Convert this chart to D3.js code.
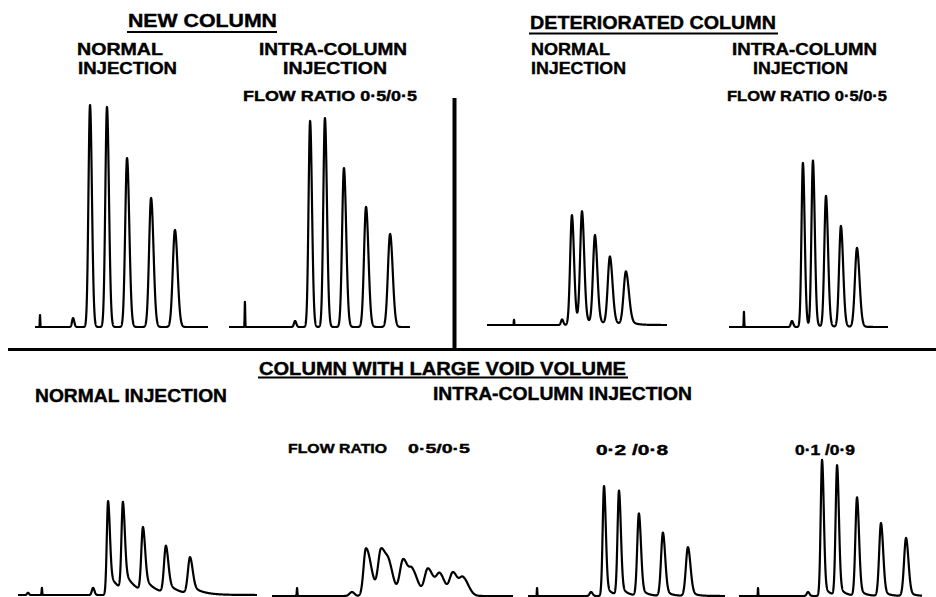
<!DOCTYPE html>
<html>
<head>
<meta charset="utf-8">
<script src="https://cdn.jsdelivr.net/npm/d3@7"></script>
<style>
body { margin: 0; background: #fff; }
text { font-family: "Liberation Sans", Arial, sans-serif; font-weight: bold; fill: #000; }
</style>
</head>
<body>
<div id="chart"></div>
<script>
// each peak: [retention, height, sigma left, sigma right, tail fraction, tail length]
// retention in % of the trace length, height in % of the tallest peak (new column)
var newNormal = [
    [2.9, 5.4, 0.15, 0.15],
    [22.0, 4.0, 0.6, 0.7],
    [31.8, 100, 0.9, 1.1],
    [41.6, 99.1, 0.95, 1.15],
    [53.2, 76.1, 1.05, 1.3],
    [67.1, 58.1, 1.15, 1.4],
    [80.9, 43.7, 1.25, 1.5]
];
var newIntra = [
    [8.8, 11.3, 0.15, 0.15],
    [36.5, 2.7, 0.6, 0.7],
    [44.8, 92.8, 0.85, 1.05],
    [53.0, 94.1, 0.9, 1.1],
    [63.5, 71.6, 1.0, 1.25],
    [75.7, 54.1, 1.1, 1.35],
    [89.0, 41.9, 1.2, 1.45]
];
var detNormal = [
    [15.0, 2.3, 0.15, 0.15],
    [41.7, 2.5, 0.6, 0.7],
    [47.2, 49.5, 1.0, 1.15, 0.1, 3],
    [52.8, 50.5, 1.05, 1.2, 0.1, 3],
    [60.0, 40, 1.1, 1.3, 0.1, 3],
    [68.3, 30.6, 1.2, 1.45, 0.1, 3],
    [77.2, 24, 1.3, 1.65, 0.12, 3.5]
];
var detIntra = [
    [9.4, 6.8, 0.15, 0.15],
    [39.6, 2.7, 0.7, 0.8],
    [46.5, 73.9, 0.9, 1.1, 0.05, 2],
    [52.8, 74.8, 0.95, 1.15, 0.05, 2],
    [61.0, 59.0, 1.05, 1.3, 0.05, 2],
    [70.4, 45.5, 1.15, 1.4, 0.05, 2],
    [80.5, 35.6, 1.3, 1.6, 0.05, 2]
];
var voidNormal = [
    [4.2, 1.0, 0.4, 0.4],
    [10.0, 3.2, 0.12, 0.12],
    [31.4, 3.2, 0.5, 0.6],
    [37.7, 42.3, 0.55, 0.75, 0.25, 4.5],
    [43.9, 39.3, 0.6, 0.8, 0.25, 4.5],
    [52.3, 28.7, 0.7, 0.9, 0.25, 4.5],
    [61.9, 21.1, 0.8, 1.0, 0.25, 4.5],
    [72.0, 16.4, 0.9, 1.1, 0.25, 4.5]
];
var voidIntra55 = [
    [10.4, 3.6, 0.12, 0.12],
    [33.2, 1.8, 1.0, 1.0],
    [39.0, 21.5, 1.0, 2.2],
    [45.2, 20, 1.2, 1.8],
    [48.6, 13, 1.5, 1.8],
    [54.4, 16.2, 1.4, 1.8],
    [58.3, 11, 1.5, 2.2],
    [64.7, 12.3, 1.4, 2.2],
    [69.7, 9.5, 1.5, 2.0],
    [75.1, 10.4, 1.4, 1.8],
    [79.3, 8.0, 1.5, 2.2]
];
var voidIntra28 = [
    [4.6, 3.6, 0.12, 0.12],
    [32.0, 1.8, 0.7, 0.8],
    [38.6, 49.5, 0.7, 0.9, 0.12, 3],
    [46.2, 47, 0.75, 0.95, 0.12, 3],
    [56.3, 37, 0.85, 1.05, 0.12, 3],
    [68.5, 28.5, 0.95, 1.15, 0.12, 3],
    [81.2, 22, 1.05, 1.3, 0.12, 3]
];
var voidIntra19 = [
    [10.4, 3.6, 0.12, 0.12],
    [37.7, 1.8, 0.7, 0.8],
    [45.4, 61.3, 0.75, 0.95, 0.1, 3],
    [53.6, 58.5, 0.8, 1.0, 0.1, 3],
    [64.5, 44.3, 0.9, 1.1, 0.1, 3],
    [77.6, 32.8, 1.0, 1.2, 0.1, 3],
    [91.3, 26.1, 1.1, 1.3, 0.1, 3]
];

var width = 936, height = 597;
var unit = 2.22;  // px per height unit, same for every trace
var times = d3.range(0, 100.001, 0.05);

var svg = d3.select('#chart').append('svg')
    .attr('width', width)
    .attr('height', height);

function peakValue(p, t) {
    var d = t - p[0], a = p[4] || 0, tau = p[5] || 1;
    if(d < 0)
        return p[1] * Math.exp(-0.5*d*d/(p[2]*p[2]));
    return p[1] * ((1-a)*Math.exp(-0.5*d*d/(p[3]*p[3])) + a*Math.exp(-d/tau));
}

function trace(peaks, x0, x1, base) {
    var x = d3.scaleLinear().domain([0, 100]).range([x0, x1]);
    var y = d3.scaleLinear().domain([0, 100]).range([base, base - 100*unit]);
    var line = d3.line()
        .x(function(t) { return x(t); })
        .y(function(t) { return y(d3.sum(peaks, function(p) { return peakValue(p, t); })); });
    svg.append('path')
        .attr('d', line(times))
        .attr('fill', 'none')
        .attr('stroke', '#000')
        .attr('stroke-width', 2.2)
        .attr('stroke-linejoin', 'round');
}

function label(s, xa, xb, yb, size) {
    svg.append('text')
        .attr('x', xa).attr('y', yb)
        .attr('textLength', xb - xa)
        .attr('lengthAdjust', 'spacingAndGlyphs')
        .style('font-size', size + 'px')
        .style('stroke', '#000').style('stroke-width', 0.4)
        .text(s);
}

function rule(xa, ya, xb, yb, w) {
    svg.append('line')
        .attr('x1', xa).attr('y1', ya).attr('x2', xb).attr('y2', yb)
        .attr('stroke', '#000').attr('stroke-width', w);
}

// TRACES

trace(newNormal, 35, 208, 327);
trace(newIntra, 229, 410, 327);
trace(detNormal, 487, 667, 325);
trace(detIntra, 729, 888, 327);
trace(voidNormal, 18, 257, 595);
trace(voidIntra55, 272, 513, 596);
trace(voidIntra28, 528, 725, 596);
trace(voidIntra19, 739, 922, 596);

// DIVIDERS

rule(454.5, 98, 454.5, 350, 4);
rule(8, 349.5, 936, 349.5, 3);

// LABELS

label('NEW COLUMN', 128, 277, 27, 18);
rule(127, 32, 277, 32, 2);
label('NORMAL', 77, 163, 55, 16.5);
label('INJECTION', 78, 177, 74, 16.5);
label('INTRA-COLUMN', 259, 407, 55, 16.5);
label('INJECTION', 283, 387, 74, 16.5);
label('FLOW RATIO  0·5/0·5', 243, 417, 101, 14);

label('DETERIORATED COLUMN', 530, 776, 29, 18);
rule(529, 33.5, 778, 33.5, 2);
label('NORMAL', 531, 610, 55, 16.5);
label('INJECTION', 531, 626, 74, 16.5);
label('INTRA-COLUMN', 732, 877, 55, 16.5);
label('INJECTION', 753, 848, 74, 16.5);
label('FLOW RATIO 0·5/0·5', 727, 887, 101, 14);

label('COLUMN WITH LARGE VOID VOLUME', 259, 626, 375, 18);
rule(258, 377.5, 628, 377.5, 2);
label('NORMAL INJECTION', 35, 227, 402, 18);
label('INTRA-COLUMN INJECTION', 433, 692, 400, 18);
label('FLOW RATIO', 288, 387, 453, 13);
label('0·5/0·5', 408, 470, 453, 13);
label('0·2 /0·8', 596, 668, 455, 14);
label('0·1 /0·9', 795, 855, 455, 14);
</script>
</body>
</html>
